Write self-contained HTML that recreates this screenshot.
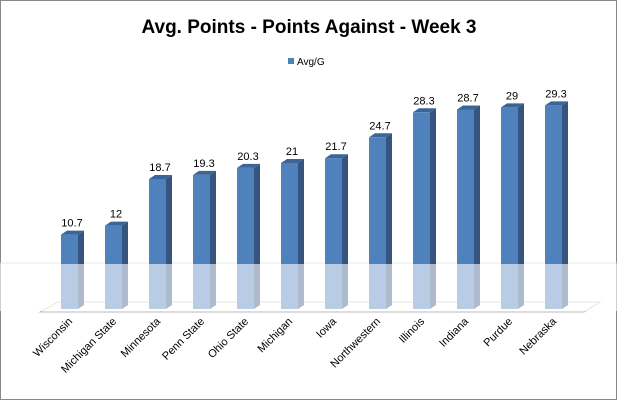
<!DOCTYPE html>
<html><head><style>body{margin:0;background:#fff}svg{display:block}</style></head><body>
<svg width="618" height="401" xmlns="http://www.w3.org/2000/svg" font-family="Liberation Sans, sans-serif">
<rect x="0.5" y="0.5" width="616" height="399" fill="#fff" stroke="#888"/>
<text x="309" y="33" text-anchor="middle" font-size="19" font-weight="bold">Avg. Points - Points Against - Week 3</text>
<rect x="288" y="58" width="6" height="6" fill="#4f81bd"/>
<text x="297" y="65" font-size="10">Avg/G</text>
<polygon points="40,312 58,302 600,302 584,312" fill="#fff" stroke="#bbb"/>
<line x1="0" y1="263" x2="618" y2="263" stroke="#e4e8ee"/>

<g transform="translate(61,0)"><polygon points="17,234.6 23,230.6 23,305 17,309" fill="#35557f"/><polygon points="0,234.6 6,230.6 23,230.6 17,234.6" fill="#3c6496"/><rect x="0" y="234.6" width="17" height="74.4" fill="#4f81bd"/><text x="11" y="226.6" text-anchor="middle" font-size="11">10.7</text></g>
<g transform="translate(105,0)"><polygon points="17,225.6 23,221.6 23,305 17,309" fill="#35557f"/><polygon points="0,225.6 6,221.6 23,221.6 17,225.6" fill="#3c6496"/><rect x="0" y="225.6" width="17" height="83.4" fill="#4f81bd"/><text x="11" y="217.6" text-anchor="middle" font-size="11">12</text></g>
<g transform="translate(149,0)"><polygon points="17,179 23,175 23,305 17,309" fill="#35557f"/><polygon points="0,179 6,175 23,175 17,179" fill="#3c6496"/><rect x="0" y="179" width="17" height="130" fill="#4f81bd"/><text x="11" y="171" text-anchor="middle" font-size="11">18.7</text></g>
<g transform="translate(193,0)"><polygon points="17,174.9 23,170.9 23,305 17,309" fill="#35557f"/><polygon points="0,174.9 6,170.9 23,170.9 17,174.9" fill="#3c6496"/><rect x="0" y="174.9" width="17" height="134.1" fill="#4f81bd"/><text x="11" y="166.9" text-anchor="middle" font-size="11">19.3</text></g>
<g transform="translate(237,0)"><polygon points="17,167.9 23,163.9 23,305 17,309" fill="#35557f"/><polygon points="0,167.9 6,163.9 23,163.9 17,167.9" fill="#3c6496"/><rect x="0" y="167.9" width="17" height="141.1" fill="#4f81bd"/><text x="11" y="159.9" text-anchor="middle" font-size="11">20.3</text></g>
<g transform="translate(281,0)"><polygon points="17,163 23,159 23,305 17,309" fill="#35557f"/><polygon points="0,163 6,159 23,159 17,163" fill="#3c6496"/><rect x="0" y="163" width="17" height="146" fill="#4f81bd"/><text x="11" y="155" text-anchor="middle" font-size="11">21</text></g>
<g transform="translate(325,0)"><polygon points="17,158.2 23,154.2 23,305 17,309" fill="#35557f"/><polygon points="0,158.2 6,154.2 23,154.2 17,158.2" fill="#3c6496"/><rect x="0" y="158.2" width="17" height="150.8" fill="#4f81bd"/><text x="11" y="150.2" text-anchor="middle" font-size="11">21.7</text></g>
<g transform="translate(369,0)"><polygon points="17,137.3 23,133.3 23,305 17,309" fill="#35557f"/><polygon points="0,137.3 6,133.3 23,133.3 17,137.3" fill="#3c6496"/><rect x="0" y="137.3" width="17" height="171.7" fill="#4f81bd"/><text x="11" y="129.3" text-anchor="middle" font-size="11">24.7</text></g>
<g transform="translate(413,0)"><polygon points="17,112.3 23,108.3 23,305 17,309" fill="#35557f"/><polygon points="0,112.3 6,108.3 23,108.3 17,112.3" fill="#3c6496"/><rect x="0" y="112.3" width="17" height="196.7" fill="#4f81bd"/><text x="11" y="104.3" text-anchor="middle" font-size="11">28.3</text></g>
<g transform="translate(457,0)"><polygon points="17,109.5 23,105.5 23,305 17,309" fill="#35557f"/><polygon points="0,109.5 6,105.5 23,105.5 17,109.5" fill="#3c6496"/><rect x="0" y="109.5" width="17" height="199.5" fill="#4f81bd"/><text x="11" y="101.5" text-anchor="middle" font-size="11">28.7</text></g>
<g transform="translate(501,0)"><polygon points="17,107.4 23,103.4 23,305 17,309" fill="#35557f"/><polygon points="0,107.4 6,103.4 23,103.4 17,107.4" fill="#3c6496"/><rect x="0" y="107.4" width="17" height="201.6" fill="#4f81bd"/><text x="11" y="99.4" text-anchor="middle" font-size="11">29</text></g>
<g transform="translate(545,0)"><polygon points="17,105.4 23,101.4 23,305 17,309" fill="#35557f"/><polygon points="0,105.4 6,101.4 23,101.4 17,105.4" fill="#3c6496"/><rect x="0" y="105.4" width="17" height="203.6" fill="#4f81bd"/><text x="11" y="97.4" text-anchor="middle" font-size="11">29.3</text></g>

<rect x="0" y="264" width="618" height="47" fill="#fff" fill-opacity="0.6"/>

<g font-size="11" text-anchor="end">
<text transform="translate(73,322) rotate(-45)">Wisconsin</text>
<text transform="translate(117,322) rotate(-45)">Michigan State</text>
<text transform="translate(161,322) rotate(-45)">Minnesota</text>
<text transform="translate(205,322) rotate(-45)">Penn State</text>
<text transform="translate(249,322) rotate(-45)">Ohio State</text>
<text transform="translate(293,322) rotate(-45)">Michigan</text>
<text transform="translate(337,322) rotate(-45)">Iowa</text>
<text transform="translate(381,322) rotate(-45)">Northwestern</text>
<text transform="translate(425,322) rotate(-45)">Illinois</text>
<text transform="translate(469,322) rotate(-45)">Indiana</text>
<text transform="translate(513,322) rotate(-45)">Purdue</text>
<text transform="translate(557,322) rotate(-45)">Nebraska</text>
</g>
</svg>
</body></html>
